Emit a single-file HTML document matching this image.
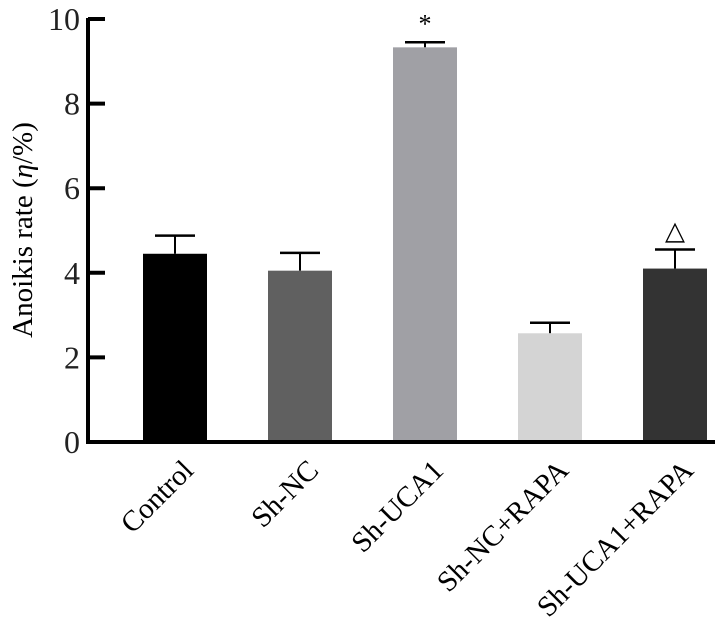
<!DOCTYPE html>
<html><head><meta charset="utf-8"><style>
body{margin:0;background:#fff}
svg{display:block;font-family:"Liberation Serif","DejaVu Serif",serif}
</style></head><body>
<svg width="715" height="633" id="chart"></svg>
<script>
const categories=["Control","Sh-NC","Sh-UCA1","Sh-NC+RAPA","Sh-UCA1+RAPA"];
const values=[4.45,4.05,9.33,2.57,4.1];
const errors=[0.43,0.42,0.12,0.25,0.45];
const colors=["#000000","#606060","#a0a0a5","#d4d4d4","#333333"];
const marks=["","","*","","△"];
const yTicks=[0,2,4,6,8,10];
const NS="http://www.w3.org/2000/svg";
const svg=document.getElementById('chart');
const y0=442,yTop=19,x0=88;
const y=v=>y0-(v/10)*(y0-yTop);
const xc=i=>175+i*125;
const bw=64;
function el(t,a,p){const e=document.createElementNS(NS,t);for(const k in a)e.setAttribute(k,a[k]);(p||svg).appendChild(e);return e;}
categories.forEach((c,i)=>{
  const g=el('g',{});
  
  
  const top=y(values[i]),et=y(values[i]+errors[i]);
  el('line',{x1:xc(i),x2:xc(i),y1:et,y2:top,stroke:'#000','stroke-width':2},g);
  el('line',{x1:xc(i)-20,x2:xc(i)+20,y1:et,y2:et,stroke:'#000','stroke-width':2.5},g);
  el('rect',{x:xc(i)-bw/2,y:top,width:bw,height:y0-top,fill:colors[i]},g);
  if(marks[i]){const t=el('text',{x:xc(i),y:et-10,'text-anchor':'middle','font-size':26},g);t.textContent=marks[i];
    }
  const lx=xc(i)+20,ly=472;
  const l=el('text',{x:lx,y:ly,'text-anchor':'end','font-size':29,transform:`rotate(-45 ${lx} ${ly})`});
  l.textContent=c;
  
  
});
const ax=el('path',{d:`M${x0} ${yTop-1}V${y0}H715`,stroke:'#000','stroke-width':4,fill:'none'});


yTicks.forEach(v=>{
  if(v>0)el('line',{x1:x0,x2:x0+17,y1:y(v),y2:y(v),stroke:'#000','stroke-width':4});
  const t=el('text',{x:x0-8,y:y(v)+11,'text-anchor':'end','font-size':32,fill:'#222'});
  t.textContent=v;
  
  
});
const yt=el('text',{x:0,y:0,'text-anchor':'middle','font-size':29,transform:'translate(32 230) rotate(-90)'});
yt.innerHTML='Anoikis rate (<tspan font-style="italic">η</tspan>/%)';


</script>
</body></html>
